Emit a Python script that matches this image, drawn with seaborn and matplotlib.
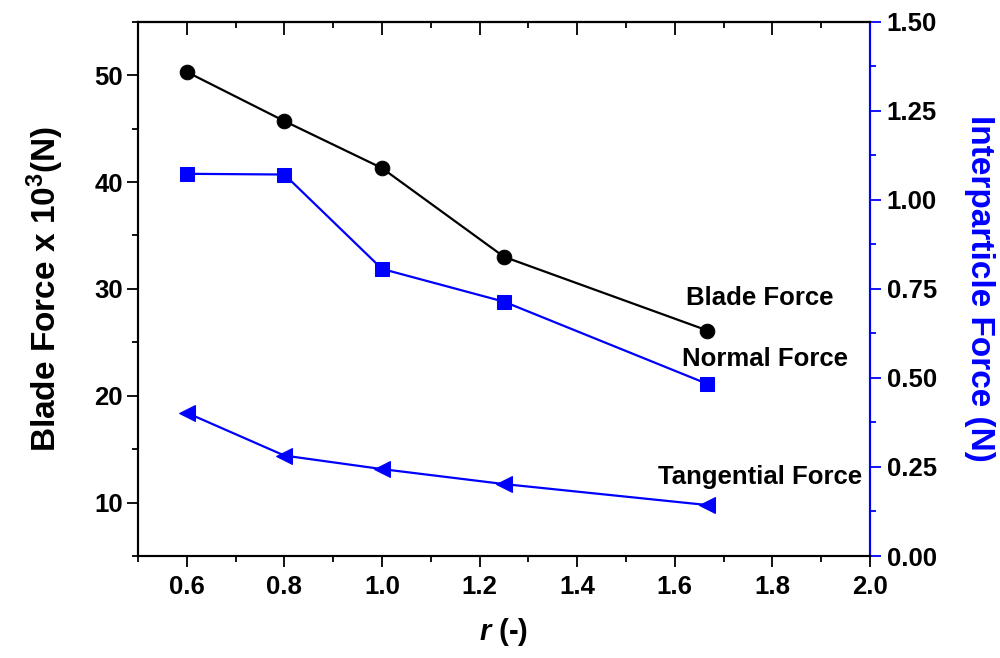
import matplotlib
matplotlib.use("Agg")
import matplotlib.pyplot as plt
import seaborn as sns
import pandas as pd
from matplotlib.ticker import MultipleLocator

# Data
r_values = [0.6, 0.8, 1.0, 1.25, 1.667]
blade_force = [50.3, 45.7, 41.3, 33.0, 26.1]          # x 10^3 N (left axis)
normal_force = [1.073, 1.071, 0.806, 0.714, 0.483]    # N (right axis)
tangential_force = [0.402, 0.282, 0.244, 0.202, 0.143]  # N (right axis)

x_ticks = [0.6, 0.8, 1.0, 1.2, 1.4, 1.6, 1.8, 2.0]
left_ticks = [10, 20, 30, 40, 50]
right_ticks = [0.0, 0.25, 0.5, 0.75, 1.0, 1.25, 1.5]

sns.set_style("ticks")
plt.rcParams['font.family'] = ['Liberation Sans', 'DejaVu Sans']
plt.rcParams['font.weight'] = 'bold'
plt.rcParams['text.color'] = 'black'
plt.rcParams['axes.labelcolor'] = 'black'
plt.rcParams['xtick.color'] = 'black'
plt.rcParams['ytick.color'] = 'black'
plt.rcParams['axes.edgecolor'] = 'black'
plt.rcParams['mathtext.fontset'] = 'custom'
plt.rcParams['mathtext.rm'] = 'Liberation Sans:bold'
plt.rcParams['mathtext.bf'] = 'Liberation Sans:bold'
plt.rcParams['mathtext.it'] = 'Liberation Sans:bold:italic'
plt.rcParams['mathtext.bfit'] = 'Liberation Sans:bold:italic'

df_blade = pd.DataFrame({"r": r_values, "F": blade_force})
df_norm = pd.DataFrame({"r": r_values, "F": normal_force})
df_tan = pd.DataFrame({"r": r_values, "F": tangential_force})

fig = plt.figure(figsize=(10, 6.58), dpi=100)
ax = fig.add_axes([0.138, 0.155, 0.732, 0.812])
ax2 = ax.twinx()

sns.lineplot(data=df_blade, x="r", y="F", ax=ax, color="black", marker="o",
             markersize=10.5, linewidth=1.6, markeredgecolor="black")
sns.lineplot(data=df_norm, x="r", y="F", ax=ax2, color="#0000ff", marker="s",
             markersize=9.5, linewidth=1.6, markeredgecolor="#0000ff")
sns.lineplot(data=df_tan, x="r", y="F", ax=ax2, color="#0000ff", marker="<",
             markersize=11.5, linewidth=1.6, markeredgecolor="#0000ff")

ax.set_xlim(0.5, 2.0)
ax.set_ylim(5, 55)
ax2.set_ylim(0, 1.5)

ax.set_xticks(x_ticks)
ax.set_xticklabels([f"{v:.1f}" for v in x_ticks])
ax.xaxis.set_minor_locator(MultipleLocator(0.1))
ax.set_yticks(left_ticks)
ax.yaxis.set_minor_locator(MultipleLocator(5))
ax2.set_yticks(right_ticks)
ax2.set_yticklabels([f"{v:.2f}" for v in right_ticks])
ax2.yaxis.set_minor_locator(MultipleLocator(0.125))

tick_fs = 18.5
for a in (ax, ax2):
    for s in a.spines.values():
        s.set_linewidth(1.5)
        s.set_visible(True)
        s.set_color('black')
ax2.spines['right'].set_color('#0000ff')

ax.tick_params(axis='x', which='both', bottom=True, top=False, direction='out',
               labelsize=tick_fs, width=1.3, pad=6)
ax.tick_params(axis='x', which='major', length=8)
ax.tick_params(axis='x', which='minor', length=4)
ax.tick_params(axis='y', which='both', left=True, right=False, direction='out',
               labelsize=tick_fs, width=1.3, pad=3)
ax.tick_params(axis='y', which='major', length=8)
ax.tick_params(axis='y', which='minor', length=4)
ax2.tick_params(axis='y', which='both', right=True, direction='out',
                labelsize=tick_fs, width=1.3, colors='#0000ff', labelcolor='black', pad=4)
ax2.tick_params(axis='y', which='major', length=8)
ax2.tick_params(axis='y', which='minor', length=4)

# top ticks inward via secondary x axis
secx = ax.secondary_xaxis('top')
secx.set_xticks(x_ticks)
secx.xaxis.set_minor_locator(MultipleLocator(0.1))
secx.tick_params(axis='x', which='both', direction='in', labeltop=False, width=1.3, color='black')
secx.tick_params(axis='x', which='major', length=9)
secx.tick_params(axis='x', which='minor', length=4)
secx.spines['top'].set_linewidth(1.5)
secx.spines['top'].set_color('black')

for lbl in ax.get_xticklabels() + ax.get_yticklabels() + ax2.get_yticklabels():
    lbl.set_fontweight('bold')
    lbl.set_color('black')

ax.set_xlabel(r"$\mathbfit{r}$ (-)", fontsize=21, fontweight='bold', labelpad=12, color='black')
ax.set_ylabel(r"Blade Force x 10$^{\mathbf{3}}$(N)", fontsize=24, fontweight='bold',
              labelpad=20, color='black')
ax2.set_ylabel("Interparticle Force (N)", fontsize=24, fontweight='bold', color='#0000ff',
               rotation=-90, labelpad=42)

ax.text(1.775, 29.1, "Blade Force", fontsize=18.5, fontweight='bold', ha='center', va='center',
        color='black')
ax2.text(1.785, 0.553, "Normal Force", fontsize=18.5, fontweight='bold', ha='center', va='center',
         color='black')
ax2.text(1.775, 0.222, "Tangential Force", fontsize=18.5, fontweight='bold', ha='center',
         va='center', color='black')

fig.savefig("out.png", dpi=100)
